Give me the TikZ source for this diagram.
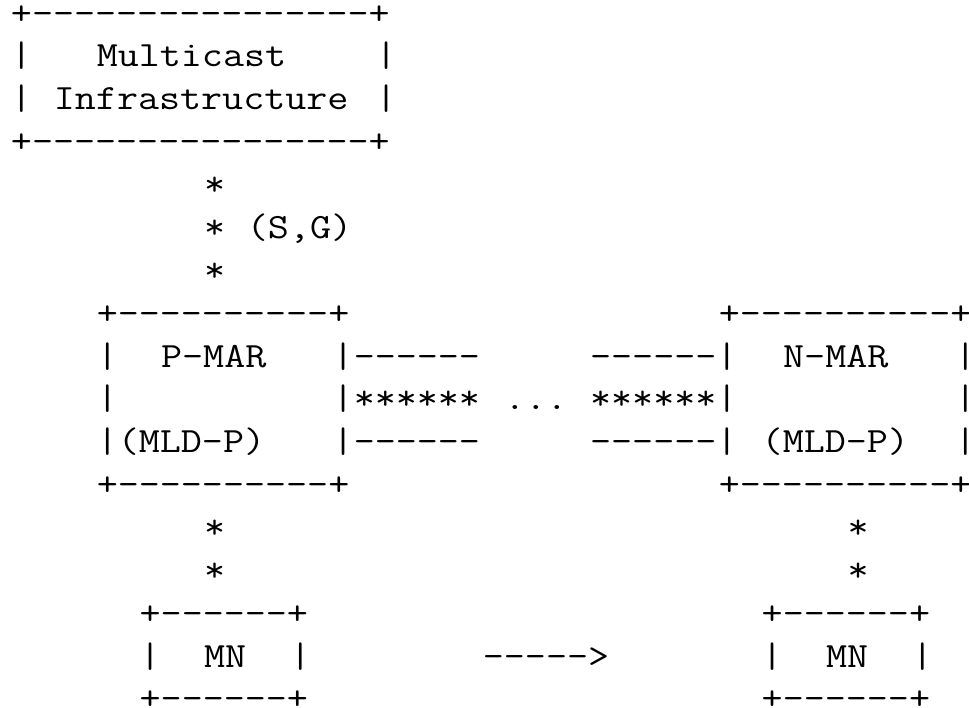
\documentclass[tikz,border=0pt]{standalone}
\usepackage{fontspec}
% Typewriter face, widened so one character cell is 21.45pt
\newfontfamily\asciifont[FakeStretch=1.151]{Latin Modern Mono}
\tikzset{
  txt/.style={anchor=base west, inner sep=0pt, outer sep=0pt,
    font={\asciifont\fontsize{35.5}{42.86}\selectfont}, text=black}
}
% \cell{name}{column}{row}{text}: text starting at a character cell
\newcommand\cell[4]{\node[txt] (#1) at ({10.975+21.45*(#2)},{24.14+42.86*(#3)}) {#4};}
\begin{document}
\begin{tikzpicture}[x=1pt,y=-1pt]
  \fill[white] (0,0) rectangle (969,708);
  \useasboundingbox (0,0) rectangle (969,708);

  % Multicast infrastructure box
  \cell{infraTop}{0}{0}{+----------------+}
  \cell{infraL1}{0}{1}{|}
  \cell{infraT1}{4}{1}{Multicast}
  \cell{infraR1}{17}{1}{|}
  \cell{infraL2}{0}{2}{|}
  \cell{infraT2}{2}{2}{Infrastructure}
  \cell{infraR2}{17}{2}{|}
  \cell{infraBot}{0}{3}{+----------------+}

  % (S,G) path down to P-MAR
  \cell{sgA}{9}{4}{*}
  \cell{sgB}{9}{5}{*}
  \cell{sgLabel}{11}{5}{(S,G)}
  \cell{sgC}{9}{6}{*}

  % P-MAR box
  \cell{pTop}{4}{7}{+----------+}
  \cell{pL1}{4}{8}{|}
  \cell{pName}{7}{8}{P-MAR}
  \cell{pR1}{15}{8}{|------}
  \cell{pL2}{4}{9}{|}
  \cell{pR2}{15}{9}{|******}
  \cell{pL3}{4}{10}{|(MLD-P)}
  \cell{pR3}{15}{10}{|------}
  \cell{pBot}{4}{11}{+----------+}

  % tunnel gap
  \cell{dots}{23}{9}{...}

  % N-MAR box
  \cell{nTop}{33}{7}{+----------+}
  \cell{nL1}{27}{8}{------|}
  \cell{nName}{36}{8}{N-MAR}
  \cell{nR1}{44}{8}{|}
  \cell{nL2}{27}{9}{******|}
  \cell{nR2}{44}{9}{|}
  \cell{nL3}{27}{10}{------|}
  \cell{nSub}{35}{10}{(MLD-P)}
  \cell{nR3}{44}{10}{|}
  \cell{nBot}{33}{11}{+----------+}

  % links down to the mobile node
  \cell{pDownA}{9}{12}{*}
  \cell{pDownB}{9}{13}{*}
  \cell{nDownA}{39}{12}{*}
  \cell{nDownB}{39}{13}{*}

  % MN before handover
  \cell{mnATop}{6}{14}{+------+}
  \cell{mnAL}{6}{15}{|}
  \cell{mnAName}{9}{15}{MN}
  \cell{mnAR}{13}{15}{|}
  \cell{mnABot}{6}{16}{+------+}

  % movement arrow
  \cell{move}{22}{15}{----->}

  % MN after handover
  \cell{mnBTop}{35}{14}{+------+}
  \cell{mnBL}{35}{15}{|}
  \cell{mnBName}{38}{15}{MN}
  \cell{mnBR}{42}{15}{|}
  \cell{mnBBot}{35}{16}{+------+}
\end{tikzpicture}
\end{document}
